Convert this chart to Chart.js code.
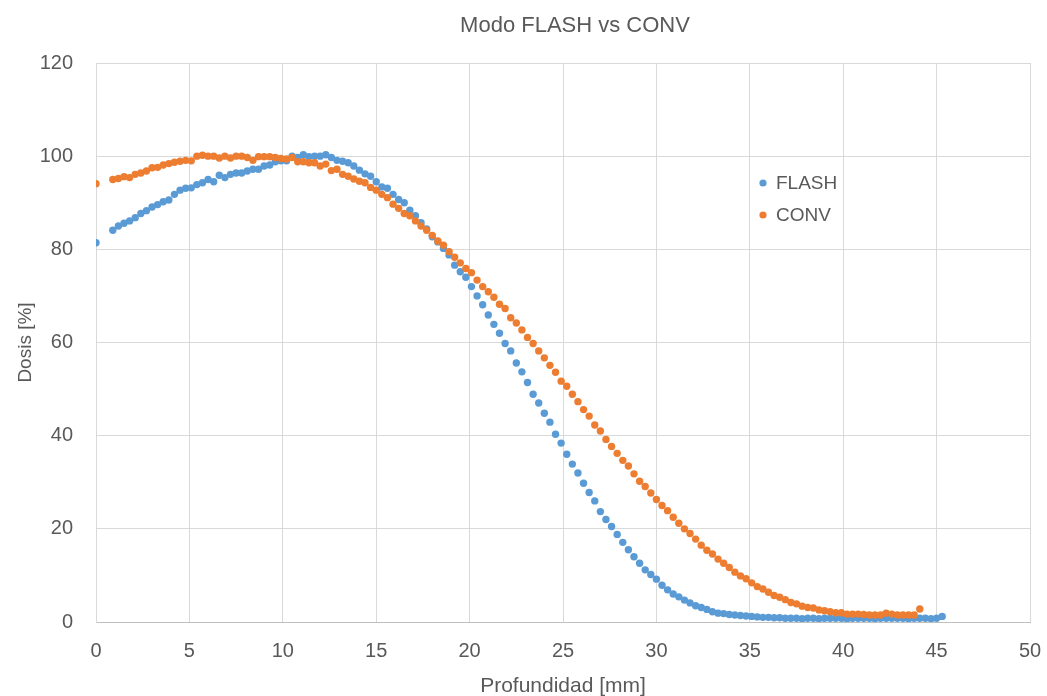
<!DOCTYPE html>
<html>
<head>
<meta charset="utf-8">
<title>Modo FLASH vs CONV</title>
<script src="https://cdn.jsdelivr.net/npm/chart.js@4/dist/chart.umd.min.js"></script>
<style>
  html, body { margin: 0; padding: 0; background: #fff; }
  #wrap { width: 1047px; height: 696px; }
</style>
</head>
<body>
<div id="wrap"><canvas id="doseChart" width="1047" height="696"></canvas></div>
<script>
/******************************************************************
DATOS
******************************************************************/

// profundidad en mm (paso de 0.3 mm)
var profundidad = [
  0, 0.9, 1.2, 1.5, 1.8, 2.1, 2.4, 2.7, 3.0, 3.3, 3.6,
  3.9, 4.2, 4.5, 4.8, 5.1, 5.4, 5.7, 6.0, 6.3, 6.6,
  6.9, 7.2, 7.5, 7.8, 8.1, 8.4, 8.7, 9.0, 9.3, 9.6,
  9.9, 10.2, 10.5, 10.8, 11.1, 11.4, 11.7, 12.0, 12.3, 12.6,
  12.9, 13.2, 13.5, 13.8, 14.1, 14.4, 14.7, 15.0, 15.3, 15.6,
  15.9, 16.2, 16.5, 16.8, 17.1, 17.4, 17.7, 18.0, 18.3, 18.6,
  18.9, 19.2, 19.5, 19.8, 20.1, 20.4, 20.7, 21.0, 21.3, 21.6,
  21.9, 22.2, 22.5, 22.8, 23.1, 23.4, 23.7, 24.0, 24.3, 24.6,
  24.9, 25.2, 25.5, 25.8, 26.1, 26.4, 26.7, 27.0, 27.3, 27.6,
  27.9, 28.2, 28.5, 28.8, 29.1, 29.4, 29.7, 30.0, 30.3, 30.6,
  30.9, 31.2, 31.5, 31.8, 32.1, 32.4, 32.7, 33.0, 33.3, 33.6,
  33.9, 34.2, 34.5, 34.8, 35.1, 35.4, 35.7, 36.0, 36.3, 36.6,
  36.9, 37.2, 37.5, 37.8, 38.1, 38.4, 38.7, 39.0, 39.3, 39.6,
  39.9, 40.2, 40.5, 40.8, 41.1, 41.4, 41.7, 42.0, 42.3, 42.6,
  42.9, 43.2, 43.5, 43.8, 44.1, 44.4, 44.7, 45.0, 45.3
];

// dosis relativa [%] modo FLASH
var dosisFlash = [
  81.4,
  84.1, 85.0, 85.6, 86.1, 86.8, 87.7, 88.3, 89.1, 89.6, 90.2,
  90.6, 91.8, 92.7, 93.1, 93.2, 93.9, 94.3, 95.0, 94.5, 95.9,
  95.4, 96.1, 96.4, 96.4, 96.8, 97.2, 97.2, 97.9, 98.1, 98.8,
  99.0, 99.0, 100.0, 99.7, 100.3, 99.9, 100.0, 100.0, 100.3, 99.7,
  99.1, 98.9, 98.6, 97.9, 97.0, 96.2, 95.7, 94.5, 93.4, 93.1,
  91.8, 90.7, 90.0, 88.4, 87.2, 85.7, 84.4, 82.7, 81.6, 80.2,
  78.8, 76.6, 75.2, 74.0, 72.0, 70.0, 68.1, 65.9, 63.9, 62.0,
  59.8, 58.2, 55.6, 53.7, 51.4, 48.9, 47.0, 44.8, 42.9, 40.3,
  38.4, 36.0, 33.9, 32.0, 29.8, 27.8, 26.0, 23.7, 22.0, 20.5,
  18.8, 17.1, 15.5, 14.0, 12.6, 11.2, 10.2, 9.2, 7.9, 6.9,
  6.0, 5.4, 4.7, 4.1, 3.5, 3.1, 2.7, 2.2, 1.9, 1.8,
  1.6, 1.5, 1.4, 1.3, 1.2, 1.1, 1.0, 1.0, 0.9, 0.9,
  0.8, 0.8, 0.8, 0.7, 0.8, 0.8, 0.7, 0.8, 0.8, 0.8,
  0.8, 0.7, 0.8, 0.8, 0.8, 0.8, 0.7, 0.8, 0.8, 0.8,
  0.8, 0.8, 0.7, 0.8, 0.8, 0.8, 0.7, 0.8, 1.2
];

// dosis relativa [%] modo convencional (termina en 44.1 mm)
var dosisConv = [
  94.1,
  95.0, 95.2, 95.6, 95.4, 96.1, 96.4, 96.8, 97.5, 97.6, 98.1,
  98.4, 98.7, 98.9, 99.1, 99.0, 100.0, 100.2, 100.0, 100.0, 99.6,
  100.0, 99.6, 100.0, 100.0, 99.7, 99.1, 99.9, 99.9, 99.9, 99.7,
  99.5, 99.4, 99.7, 98.8, 98.8, 98.6, 98.6, 97.9, 98.3, 96.9,
  97.2, 96.1, 95.7, 95.1, 94.6, 94.3, 93.3, 92.7, 91.8, 91.1,
  89.7, 88.8, 87.7, 87.2, 86.1, 85.0, 84.1, 83.0, 81.8, 80.9,
  79.5, 78.3, 77.1, 75.9, 75.0, 73.4, 72.0, 70.9, 69.7, 68.2,
  67.3, 65.3, 64.2, 62.7, 61.1, 59.8, 58.2, 56.7, 55.1, 53.6,
  51.7, 50.6, 48.9, 47.3, 45.6, 44.2, 42.3, 41.0, 39.2, 37.7,
  36.2, 34.7, 33.5, 31.8, 30.2, 29.1, 27.7, 26.3, 25.0, 23.9,
  22.5, 21.2, 20.0, 19.0, 17.8, 16.5, 15.4, 14.6, 13.5, 12.6,
  11.7, 10.7, 9.9, 9.3, 8.4, 7.6, 7.1, 6.4, 5.7, 5.3,
  4.8, 4.2, 3.9, 3.4, 3.1, 3.0, 2.6, 2.4, 2.2, 2.0,
  2.0, 1.7, 1.7, 1.7, 1.6, 1.5, 1.5, 1.5, 1.9, 1.7,
  1.5, 1.5, 1.5, 1.5, 2.8
];

var titulo = "Modo FLASH vs CONV";
var series = ["FLASH", "CONV"];
var colores = ["#5B9BD5", "#ED7D31"];

var xTicks = [0, 5, 10, 15, 20, 25, 30, 35, 40, 45, 50];
var yTicks = [0, 20, 40, 60, 80, 100, 120];

/******************************************************************
CHART
******************************************************************/

function toPoints(values) {
  var pts = [];
  for (var i = 0; i < values.length; i++) {
    pts.push({ x: profundidad[i], y: values[i] });
  }
  return pts;
}

var textColor = "#595959";
var fontFamily = "'Liberation Sans', Arial, sans-serif";

// titulo centrado sobre el area de trazado + leyenda dentro del grafico
var chartDecor = {
  id: "chartDecor",
  afterDraw: function (chart) {
    var ctx = chart.ctx;
    var area = chart.chartArea;
    ctx.save();

    ctx.font = "22px " + fontFamily;
    ctx.fillStyle = textColor;
    ctx.textAlign = "center";
    ctx.textBaseline = "middle";
    ctx.fillText(titulo, (area.left + area.right) / 2 + 12, 26);

    var x = area.left + 667;
    var y = area.top + 120;
    ctx.font = "19px " + fontFamily;
    ctx.textAlign = "left";
    chart.data.datasets.forEach(function (ds, i) {
      var yy = y + i * 32;
      ctx.beginPath();
      ctx.arc(x, yy, 3.6, 0, Math.PI * 2);
      ctx.fillStyle = ds.backgroundColor;
      ctx.fill();
      ctx.fillStyle = textColor;
      ctx.fillText(ds.label, x + 13, yy + 1);
    });
    ctx.restore();
  }
};

var ctx = document.getElementById("doseChart").getContext("2d");

var doseChart = new Chart(ctx, {
  type: "scatter",
  data: {
    datasets: [{
      label: series[0],
      data: toPoints(dosisFlash),
      backgroundColor: colores[0],
      borderColor: colores[0],
      pointRadius: 3.7,
      pointBorderWidth: 0,
      order: 1
    }, {
      label: series[1],
      data: toPoints(dosisConv),
      backgroundColor: colores[1],
      borderColor: colores[1],
      pointRadius: 3.7,
      pointBorderWidth: 0,
      order: 0
    }]
  },
  options: {
    responsive: false,
    animation: false,
    layout: { padding: { left: 0, right: 17, top: 63, bottom: 0 } },
    plugins: {
      legend: { display: false },
      tooltip: { enabled: false },
      title: { display: false }
    },
    scales: {
      x: {
        type: "linear",
        min: 0,
        max: 50,
        afterBuildTicks: function (scale) {
          scale.ticks = xTicks.map(function (v) { return { value: v }; });
        },
        afterFit: function (scale) {
          scale.height = 74;
          scale.paddingLeft = 0;
          scale.paddingRight = 0;
        },
        grid: { color: "#d9d9d9", lineWidth: 1, drawTicks: false },
        border: { color: "#bfbfbf", width: 1 },
        ticks: {
          color: textColor,
          font: { family: fontFamily, size: 20 },
          padding: 17,
          maxRotation: 0
        },
        title: {
          display: true,
          text: "Profundidad [mm]",
          color: textColor,
          font: { family: fontFamily, size: 21 },
          padding: { top: 0, bottom: -3 }
        }
      },
      y: {
        type: "linear",
        min: 0,
        max: 120,
        afterBuildTicks: function (scale) {
          scale.ticks = yTicks.map(function (v) { return { value: v }; });
        },
        afterFit: function (scale) {
          scale.width = 96;
          scale.paddingTop = 0;
          scale.paddingBottom = 0;
        },
        grid: { color: "#d9d9d9", lineWidth: 1, drawTicks: false },
        border: { color: "#d9d9d9", width: 1 },
        ticks: {
          color: textColor,
          font: { family: fontFamily, size: 20 },
          padding: 23
        },
        title: {
          display: true,
          text: "Dosis [%]",
          color: textColor,
          font: { family: fontFamily, size: 19 },
          padding: { top: 14, bottom: 0 }
        }
      }
    }
  },
  plugins: [chartDecor]
});
</script>
</body>
</html>
